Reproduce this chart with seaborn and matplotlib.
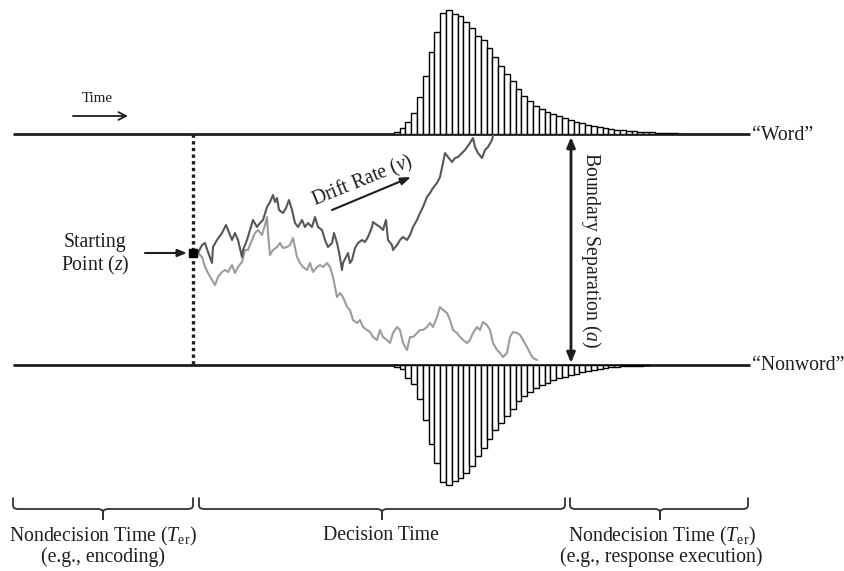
import numpy as np
import pandas as pd
import matplotlib
matplotlib.use("Agg")
import matplotlib.pyplot as plt
import seaborn as sns

# RT distributions at each boundary (bar heights per bin)
word_rt = [1.7, 5.7, 12.3, 20.7, 36.7, 58.3, 82.3, 101.7, 121, 124.3, 120, 117.7,
           112.3, 105.7, 97.7, 94.3, 86, 76.7, 67.7, 60, 53.3, 45, 38.3, 33.3, 27.7,
           25, 22.3, 20, 17.7, 16, 14, 12.3, 10.7, 9.3, 8.3, 7.3, 6.3, 5.3, 4.3, 3.7,
           3, 2.7, 2.3, 2, 1.7, 1.3, 1.0, 0.8, 0.6, 0.5]
nonword_rt = [2, 4.3, 12.7, 19.3, 34.3, 55.3, 79.3, 97.7, 117, 120.3, 116, 112.7,
              107.7, 101, 91, 82.7, 74.3, 65.3, 57.7, 51, 44.3, 36, 31, 26.7, 22.7,
              20, 17.7, 15, 13.3, 11.7, 10, 8.7, 7, 6, 4.7, 3.7, 3, 2.3, 1.7, 1.3,
              1, 0.7, 0.5, 0.3]

# two sample paths (time, evidence) in diagram units
walk_up_t = [198, 202, 205, 208, 212, 213, 217, 222, 226, 228, 232, 235, 238, 242, 243,
             247, 250, 253, 257, 260, 263, 267, 270, 273, 275, 277, 279, 283, 286, 289,
             292, 295, 298, 302, 305, 308, 312, 315, 318, 322, 325, 328, 332, 334, 337,
             339, 342, 343, 346, 348, 350, 352, 355, 358, 362, 365, 368, 372, 373, 377,
             380, 383, 386, 388, 392, 393, 397, 400, 403, 407, 410, 413, 417, 420, 423,
             427, 430, 433, 437, 440, 443, 445, 448, 452, 455, 458, 462, 465, 470, 473,
             475, 478, 482, 485, 488, 492, 493]
walk_up_y = [253, 245, 243, 252, 263, 247, 240, 233, 225, 230, 240, 233, 240, 257, 250,
             240, 230, 220, 227, 223, 220, 207, 202, 195, 202, 198, 210, 213, 208, 200,
             210, 223, 227, 220, 227, 223, 227, 217, 227, 230, 240, 247, 243, 233, 243,
             252, 270, 263, 257, 253, 263, 260, 248, 243, 240, 242, 237, 227, 222, 225,
             227, 230, 220, 240, 245, 250, 245, 240, 237, 240, 235, 227, 220, 213, 207,
             197, 193, 188, 183, 177, 163, 153, 157, 162, 158, 157, 153, 150, 143, 138,
             147, 153, 158, 150, 147, 140, 135]
walk_down_t = [198, 202, 205, 208, 212, 215, 218, 222, 225, 228, 232, 235, 238, 242, 245,
               248, 252, 255, 258, 262, 265, 267, 268, 270, 273, 277, 280, 283, 287, 290,
               293, 297, 300, 303, 307, 310, 313, 317, 320, 323, 327, 330, 333, 337, 340,
               343, 347, 350, 353, 357, 360, 363, 367, 370, 373, 377, 380, 383, 387, 390,
               393, 397, 400, 403, 407, 410, 413, 417, 420, 423, 427, 430, 433, 437, 440,
               443, 447, 450, 453, 457, 460, 463, 467, 470, 473, 477, 480, 483, 487, 490,
               493, 497, 500, 503, 507, 510, 513, 517, 520, 523, 527, 530, 533, 537]
walk_down_y = [253, 257, 267, 273, 280, 285, 277, 272, 270, 272, 265, 273, 267, 262, 250,
               250, 240, 233, 230, 235, 225, 217, 233, 255, 250, 247, 243, 248, 247, 245,
               238, 257, 263, 267, 270, 263, 272, 267, 265, 267, 263, 267, 277, 297, 293,
               297, 307, 310, 320, 323, 320, 327, 330, 332, 337, 340, 330, 337, 340, 343,
               333, 327, 330, 343, 350, 337, 337, 333, 330, 330, 327, 323, 327, 317, 307,
               310, 313, 320, 330, 333, 337, 340, 343, 340, 333, 327, 330, 322, 325, 330,
               343, 350, 353, 357, 353, 337, 332, 333, 335, 340, 347, 353, 358, 360]

W, H = 845, 571
TOP_Y, BOT_Y = 134, 365      # boundary lines
LINE_X0, LINE_X1 = 13, 750
TER_X = 193                  # end of encoding / start point
BIN0, BIN_W = 396.7, 5.8     # first bin centre and bin width (px)

sns.set_style("white")
plt.rcParams["font.family"] = ["Liberation Serif", "DejaVu Serif"]
plt.rcParams["mathtext.fontset"] = "custom"
plt.rcParams["mathtext.rm"] = "Liberation Serif"
plt.rcParams["mathtext.it"] = "Liberation Serif:italic"
ink = "#1e1e1e"
fs = 14.2

fig = plt.figure(figsize=(W / 100, H / 100), dpi=100)
ax = fig.add_axes([0, 0, 1, 1])

# boundaries and non-decision marker
ax.plot([LINE_X0, LINE_X1], [TOP_Y, TOP_Y], color=ink, lw=2.0, solid_capstyle="butt")
ax.plot([LINE_X0, LINE_X1], [BOT_Y, BOT_Y], color=ink, lw=2.0, solid_capstyle="butt")
ax.plot([TER_X, TER_X], [TOP_Y, BOT_Y], color=ink, lw=2.4, linestyle=(0, (1, 1)))

# sample paths
sns.lineplot(x=walk_down_t, y=walk_down_y, sort=False, estimator=None,
             color="#9c9c9c", lw=1.5, ax=ax)
sns.lineplot(x=walk_up_t, y=walk_up_y, sort=False, estimator=None,
             color="#575757", lw=1.5, ax=ax)
ax.plot(TER_X, 253, "s", ms=6, color="black")

# arrows
def arrow(x0, y0, x1, y1, style="-|>", lw=1.5, **kw):
    ax.annotate("", xy=(x1, y1), xytext=(x0, y0),
                arrowprops=dict(arrowstyle=style, lw=lw, color=ink,
                                shrinkA=0, shrinkB=0, **kw))

arrow(73, 116, 128, 116, style="->,head_length=0.55,head_width=0.28", lw=1.3)
arrow(145, 253, 187, 253, style="-|>,head_length=0.55,head_width=0.22")
arrow(332, 210, 411, 177, style="-|>,head_length=0.6,head_width=0.22")
arrow(571, 363, 571, 137, style="<|-|>,head_length=0.6,head_width=0.25", lw=2.0)

# labels
ax.text(97, 99, "Time", fontsize=10.8, color=ink, ha="center", va="center")
ax.text(95, 255, "Starting\nPoint ($z$)", fontsize=fs, color=ink, ha="center",
        va="center", linespacing=1.12)
ax.text(363, 181, "Drift Rate ($v$)", fontsize=fs, color=ink, ha="center",
        va="center", rotation=22, rotation_mode="anchor")
ax.text(591, 250, "Boundary Separation ($a$)", fontsize=fs, color=ink, ha="center",
        va="center", rotation=270)
ax.text(752, TOP_Y + 1, "\u201cWord\u201d", fontsize=fs, color=ink, ha="left", va="center")
ax.text(752, BOT_Y + 1, "\u201cNonword\u201d", fontsize=fs, color=ink, ha="left", va="center")

# braces along the time axis
def brace(x0, x1, xm, y=509):
    xs = [x0, x0, x0 + 1, x0 + 4, xm - 4, xm - 1, xm, xm, xm, xm + 1, xm + 4,
          x1 - 4, x1 - 1, x1, x1]
    ys = [y - 11, y - 3, y - 1, y, y, y + 1, y + 3, y + 10, y + 3, y + 1, y,
          y, y - 1, y - 3, y - 11]
    ax.plot(xs, ys, color="#333333", lw=1.3)

brace(13, 193, 103)
brace(199, 565, 382)
brace(570, 748, 660)

ax.text(103, 536, "Nondecision Time ($T_{\\mathrm{er}}$)", fontsize=fs, color=ink,
        ha="center", va="center")
ax.text(103, 557, "(e.g., encoding)", fontsize=fs, color=ink, ha="center", va="center")
ax.text(381, 536, "Decision Time", fontsize=fs, color=ink, ha="center", va="center")
ax.text(662, 536, "Nondecision Time ($T_{\\mathrm{er}}$)", fontsize=fs, color=ink,
        ha="center", va="center")
ax.text(661, 557, "(e.g., response execution)", fontsize=fs, color=ink,
        ha="center", va="center")

ax.set_xlim(0, W)
ax.set_ylim(H, 0)
ax.axis("off")

# RT histograms sitting on the boundaries
bin_lim = ((0 - BIN0) / BIN_W, (W - BIN0) / BIN_W)
top_df = pd.DataFrame({"bin": np.arange(len(word_rt)), "count": word_rt})
bot_df = pd.DataFrame({"bin": np.arange(len(nonword_rt)), "count": nonword_rt})

hax = fig.add_axes([0, 1 - TOP_Y / H, 1, TOP_Y / H])
sns.barplot(data=top_df, x="bin", y="count", native_scale=True, width=1,
            color="white", edgecolor="black", linewidth=1.0, saturation=1,
            errorbar=None, ax=hax)
hax.set_xlim(*bin_lim)
hax.set_ylim(0, TOP_Y)
hax.axis("off")

bax = fig.add_axes([0, 0, 1, (H - BOT_Y) / H])
sns.barplot(data=bot_df, x="bin", y="count", native_scale=True, width=1,
            color="white", edgecolor="black", linewidth=1.0, saturation=1,
            errorbar=None, ax=bax)
bax.set_xlim(*bin_lim)
bax.set_ylim(H - BOT_Y, 0)
bax.axis("off")

fig.savefig("out.png", dpi=100)
